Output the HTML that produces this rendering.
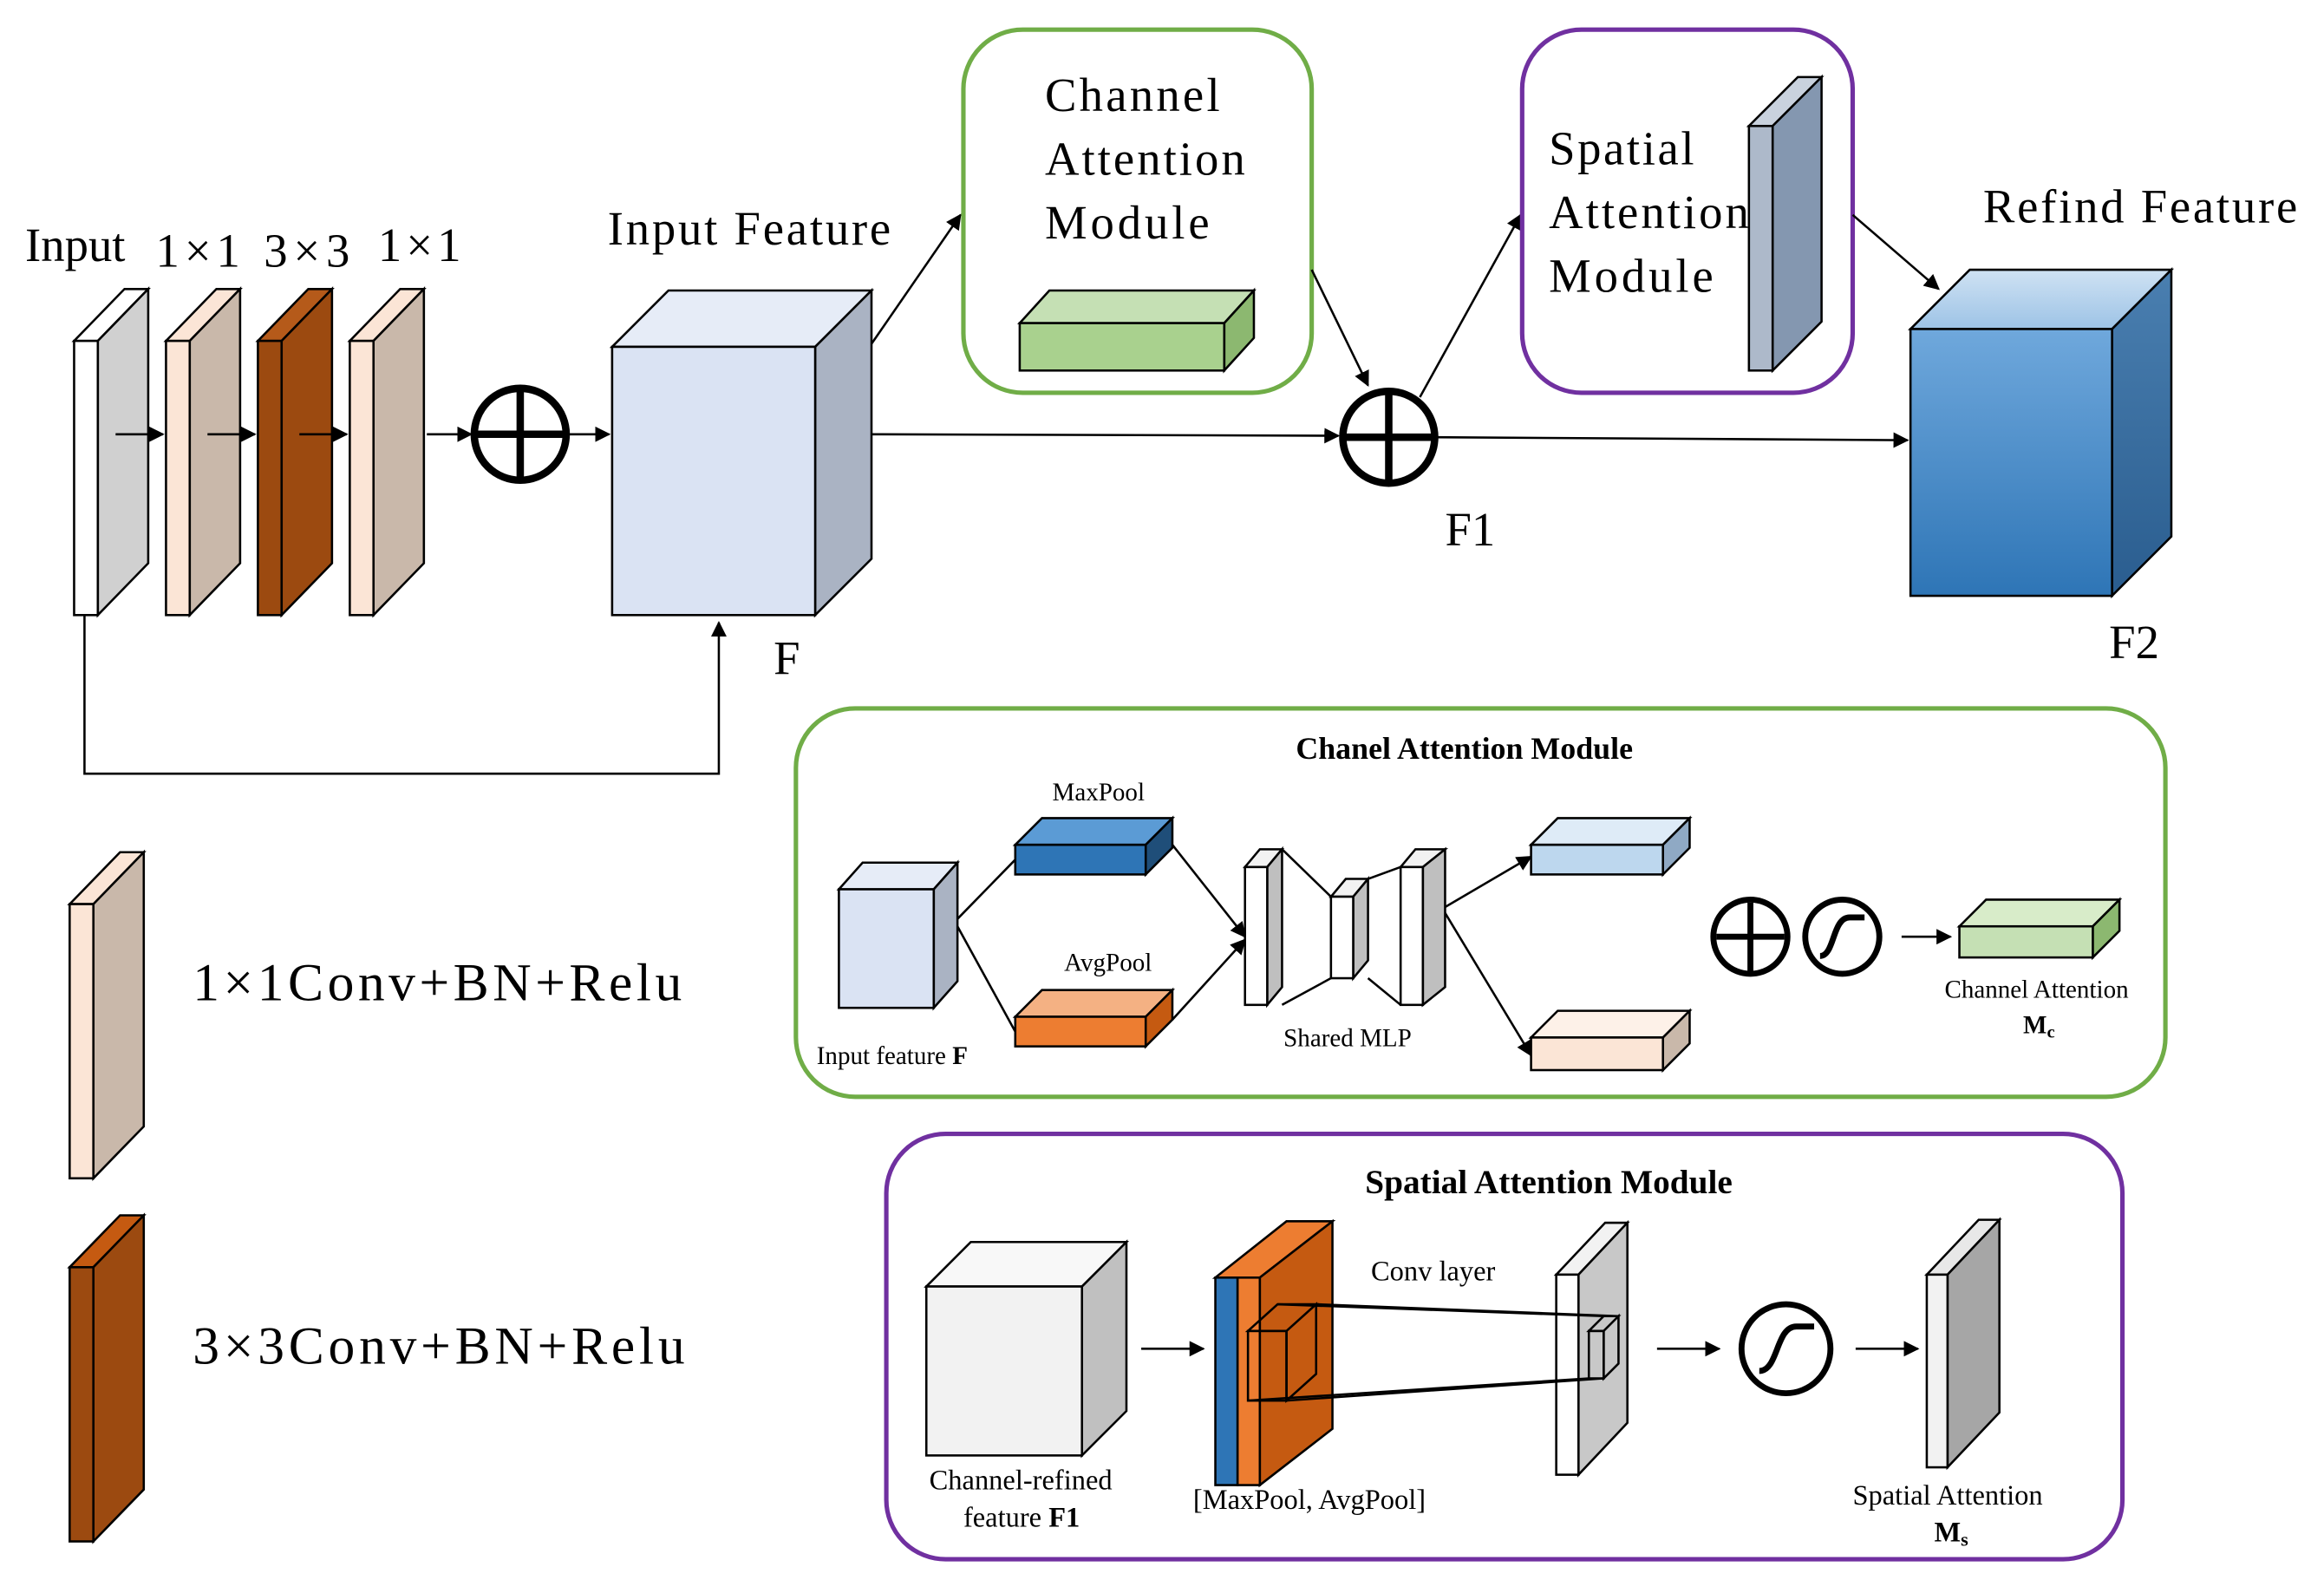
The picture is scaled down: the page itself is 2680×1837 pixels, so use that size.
<!DOCTYPE html>
<html><head><meta charset="utf-8"><style>
html,body{margin:0;padding:0;background:#fff;}
svg{display:block;}
text{font-family:"Liberation Serif",serif;fill:#000;}
</style></head><body>
<svg width="2680" height="1837" viewBox="0 0 1568 1074.8" preserveAspectRatio="none" xmlns="http://www.w3.org/2000/svg">
<defs>
<marker id="a" viewBox="0 0 10 10" refX="9" refY="5" markerWidth="7" markerHeight="7" orient="auto"><path d="M0,0L10,5L0,10z" fill="#000"/></marker>
<linearGradient id="bl" x1="0" y1="0" x2="0" y2="1"><stop offset="0" stop-color="#6fa8dc"/><stop offset="1" stop-color="#2e75b6"/></linearGradient>
<linearGradient id="bs" x1="0" y1="0" x2="0" y2="1"><stop offset="0" stop-color="#4a7fb0"/><stop offset="1" stop-color="#2a5d8f"/></linearGradient>
<linearGradient id="bt" x1="0" y1="0" x2="0" y2="1"><stop offset="0" stop-color="#cfe2f3"/><stop offset="1" stop-color="#9dc3e6"/></linearGradient>
</defs>
<g stroke="#000" stroke-width="1.5">
<g>
<path d="M50,230 L84,195 L100,195 L66,230z" fill="#fff"/><path d="M66,230 L100,195 L100,380 L66,415z" fill="#d0d0d0"/><rect x="50" y="230" width="16" height="185" fill="#fff"/>
<path d="M112,230 L146,195 L162,195 L128,230z" fill="#fbe5d6"/><path d="M128,230 L162,195 L162,380 L128,415z" fill="#c9b8aa"/><rect x="112" y="230" width="16" height="185" fill="#fbe5d6"/>
<path d="M174,230 L208,195 L224,195 L190,230z" fill="#b55a1a"/><path d="M190,230 L224,195 L224,380 L190,415z" fill="#9c4a10"/><rect x="174" y="230" width="16" height="185" fill="#9c4a10"/>
<path d="M236,230 L270,195 L286,195 L252,230z" fill="#fbe5d6"/><path d="M252,230 L286,195 L286,380 L252,415z" fill="#c9b8aa"/><rect x="236" y="230" width="16" height="185" fill="#fbe5d6"/>
</g>
<line x1="78" y1="293" x2="110" y2="293" marker-end="url(#a)"/>
<line x1="140" y1="293" x2="172" y2="293" marker-end="url(#a)"/>
<line x1="202" y1="293" x2="234" y2="293" marker-end="url(#a)"/>
<line x1="288" y1="293" x2="318" y2="293" marker-end="url(#a)"/>
<circle cx="351" cy="293" r="31" fill="#fff" stroke-width="5"/><path d="M322,293H380M351,264V322" stroke-width="5"/>
<line x1="384" y1="293" x2="411" y2="293" marker-end="url(#a)"/>
<path d="M413,234 L451,196 L588,196 L550,234z" fill="#e6ecf7"/><path d="M550,234 L588,196 L588,377 L550,415z" fill="#aab3c3"/><rect x="413" y="234" width="137" height="181" fill="#dae3f3"/>
<polyline points="57,415 57,522 485,522 485,420" fill="none" marker-end="url(#a)"/>
<line x1="588" y1="232" x2="648" y2="145" marker-end="url(#a)"/>
<rect x="650" y="20" width="235" height="245" rx="40" fill="none" stroke="#70ad47" stroke-width="3"/>
<path d="M688,218 L708,196 L846,196 L826,218z" fill="#c5e0b4"/><path d="M826,218 L846,196 L846,228 L826,250z" fill="#8cb870"/><rect x="688" y="218" width="138" height="32" fill="#a9d18e"/>
<line x1="885" y1="182" x2="923" y2="260" marker-end="url(#a)"/>
<line x1="588" y1="293" x2="903" y2="294" marker-end="url(#a)"/>
<circle cx="937" cy="295" r="31" fill="#fff" stroke-width="5"/><path d="M908,295H966M937,266V324" stroke-width="5"/>
<line x1="958" y1="268" x2="1026" y2="145" marker-end="url(#a)"/>
<rect x="1027" y="20" width="223" height="245" rx="40" fill="none" stroke="#7030a0" stroke-width="3"/>
<path d="M1180,85 L1213,52 L1229,52 L1196,85z" fill="#c9d2de"/><path d="M1196,85 L1229,52 L1229,217 L1196,250z" fill="#8497b0"/><rect x="1180" y="85" width="16" height="165" fill="#adb9ca"/>
<line x1="1250" y1="145" x2="1308" y2="195" marker-end="url(#a)"/>
<line x1="968" y1="295" x2="1287" y2="297" marker-end="url(#a)"/>
<path d="M1289,222 L1329,182 L1465,182 L1425,222z" fill="url(#bt)"/><path d="M1425,222 L1465,182 L1465,362 L1425,402z" fill="url(#bs)"/><rect x="1289" y="222" width="136" height="180" fill="url(#bl)"/>
<path d="M47,610 L81,575 L97,575 L63,610z" fill="#fbe5d6"/><path d="M63,610 L97,575 L97,760 L63,795z" fill="#c9b8aa"/><rect x="47" y="610" width="16" height="185" fill="#fbe5d6"/>
<path d="M47,855 L81,820 L97,820 L63,855z" fill="#c55a11"/><path d="M63,855 L97,820 L97,1005 L63,1040z" fill="#9c4a10"/><rect x="47" y="855" width="16" height="185" fill="#9c4a10"/>
<rect x="537" y="478" width="924" height="262" rx="40" fill="none" stroke="#70ad47" stroke-width="3"/>
<path d="M566,600 L582,582 L646,582 L630,600z" fill="#e6ecf7"/><path d="M630,600 L646,582 L646,662 L630,680z" fill="#aab3c3"/><rect x="566" y="600" width="64" height="80" fill="#dae3f3"/>
<path d="M685,570 L703,552 L791,552 L773,570z" fill="#5b9bd5"/><path d="M773,570 L791,552 L791,572 L773,590z" fill="#1f4e79"/><rect x="685" y="570" width="88" height="20" fill="#2e75b6"/>
<path d="M685,686 L703,668 L791,668 L773,686z" fill="#f4b183"/><path d="M773,686 L791,668 L791,688 L773,706z" fill="#c55a11"/><rect x="685" y="686" width="88" height="20" fill="#ed7d31"/>
<line x1="646" y1="620" x2="685" y2="580"/><line x1="646" y1="625" x2="685" y2="696"/>
<line x1="791" y1="570" x2="840" y2="632" marker-end="url(#a)"/><line x1="791" y1="688" x2="840" y2="634" marker-end="url(#a)"/>
<path d="M840,585 L850,573 L865,573 L855,585z" fill="#f2f2f2"/><path d="M855,585 L865,573 L865,666 L855,678z" fill="#bfbfbf"/><rect x="840" y="585" width="15" height="93" fill="#fff"/>
<path d="M898,605 L908,593 L923,593 L913,605z" fill="#f2f2f2"/><path d="M913,605 L923,593 L923,648 L913,660z" fill="#bfbfbf"/><rect x="898" y="605" width="15" height="55" fill="#fff"/>
<path d="M945,585 L955,573 L975,573 L960,585z" fill="#f2f2f2"/><path d="M960,585 L975,573 L975,666 L960,678z" fill="#bfbfbf"/><rect x="945" y="585" width="15" height="93" fill="#fff"/>
<line x1="865" y1="573" x2="898" y2="605"/><line x1="865" y1="678" x2="898" y2="660"/><line x1="923" y1="593" x2="945" y2="585"/><line x1="923" y1="660" x2="945" y2="678"/>
<line x1="975" y1="612" x2="1033" y2="578" marker-end="url(#a)"/><line x1="975" y1="616" x2="1033" y2="712" marker-end="url(#a)"/>
<path d="M1033,570 L1051,552 L1140,552 L1122,570z" fill="#deebf7"/><path d="M1122,570 L1140,552 L1140,572 L1122,590z" fill="#8fa9c4"/><rect x="1033" y="570" width="89" height="20" fill="#bdd7ee"/>
<path d="M1033,700 L1051,682 L1140,682 L1122,700z" fill="#fdf1e8"/><path d="M1122,700 L1140,682 L1140,704 L1122,722z" fill="#c9b8aa"/><rect x="1033" y="700" width="89" height="22" fill="#fbe5d6"/>
<circle cx="1181" cy="632" r="25" fill="#fff" stroke-width="4"/><path d="M1158,632H1204M1181,609V655" stroke-width="4"/>
<circle cx="1243" cy="632" r="25" fill="#fff" stroke-width="4"/><path d="M1228,645 C1238,645 1236,619 1248,619 C1256,619 1256,619 1258,619" fill="none" stroke-width="4"/>
<line x1="1283" y1="632" x2="1316" y2="632" marker-end="url(#a)"/>
<path d="M1322,625 L1340,607 L1430,607 L1412,625z" fill="#d8ecc9"/><path d="M1412,625 L1430,607 L1430,628 L1412,646z" fill="#8cb870"/><rect x="1322" y="625" width="90" height="21" fill="#c5e0b4"/>
<rect x="598" y="765" width="834" height="287" rx="40" fill="none" stroke="#7030a0" stroke-width="3"/>
<path d="M625,868 L655,838 L760,838 L730,868z" fill="#f8f8f8"/><path d="M730,868 L760,838 L760,952 L730,982z" fill="#c0c0c0"/><rect x="625" y="868" width="105" height="114" fill="#f2f2f2"/>
<line x1="770" y1="910" x2="812" y2="910" marker-end="url(#a)"/>
<path d="M820,862 L868,824 L899,824 L850,862z" fill="#ed7d31"/><path d="M850,862 L899,824 L899,964 L850,1002z" fill="#c55a11"/>
<rect x="820" y="862" width="15" height="140" fill="#2e75b6"/><rect x="835" y="862" width="15" height="140" fill="#ed7d31"/>
<path d="M842,898 L862,880 L888,880 L868,898z M868,898 L888,880 L888,927 L868,945z" fill="none"/><rect x="842" y="898" width="26" height="47" fill="none"/>
<path d="M1050,860 L1083,825 L1098,825 L1065,860z" fill="#f2f2f2"/><path d="M1065,860 L1098,825 L1098,960 L1065,995z" fill="#c8c8c8"/><rect x="1050" y="860" width="15" height="135" fill="#fff"/>
<path d="M1072,898 L1082,888 L1092,888 L1082,898z M1082,898 L1092,888 L1092,920 L1082,930z" fill="none"/><rect x="1072" y="898" width="10" height="32" fill="none"/>
<line x1="862" y1="880" x2="1082" y2="888"/><line x1="888" y1="880" x2="1092" y2="888"/><line x1="842" y1="945" x2="1072" y2="930"/><line x1="868" y1="945" x2="1082" y2="930"/>
<line x1="1118" y1="910" x2="1160" y2="910" marker-end="url(#a)"/>
<circle cx="1205" cy="910" r="30" fill="#fff" stroke-width="4"/><path d="M1187,925 C1200,925 1198,895 1212,895 C1220,895 1222,895 1224,895" fill="none" stroke-width="4"/>
<line x1="1252" y1="910" x2="1294" y2="910" marker-end="url(#a)"/>
<path d="M1300,860 L1335,823 L1349,823 L1314,860z" fill="#e8e8e8"/><path d="M1314,860 L1349,823 L1349,953 L1314,990z" fill="#a6a6a6"/><rect x="1300" y="860" width="14" height="130" fill="#f2f2f2"/>
</g>
<g font-size="32">
<text x="17" y="176">Input</text><text x="105" y="180" textLength="57">1×1</text><text x="178" y="180" textLength="58">3×3</text><text x="255" y="176" textLength="56">1×1</text>
<text x="410" y="165" textLength="191">Input Feature</text><text x="522" y="455">F</text>
<text x="705" y="75" textLength="118">Channel</text><text x="705" y="118" textLength="135">Attention</text><text x="705" y="161" textLength="111">Module</text>
<text x="1045" y="111" textLength="98">Spatial</text><text x="1045" y="154" textLength="135">Attention</text><text x="1045" y="197" textLength="111">Module</text>
<text x="975" y="368">F1</text><text x="1338" y="150" textLength="212">Refind Feature</text><text x="1423" y="444">F2</text>
</g>
<text x="130" y="675" font-size="36" textLength="330">1×1Conv+BN+Relu</text>
<text x="130" y="920" font-size="36" textLength="332">3×3Conv+BN+Relu</text>
<text x="988" y="512" font-size="21" font-weight="bold" text-anchor="middle">Chanel Attention Module</text>
<g font-size="17">
<text x="710" y="540">MaxPool</text><text x="718" y="655">AvgPool</text>
<text x="551" y="718">Input feature <tspan font-weight="bold">F</tspan></text>
<text x="866" y="706">Shared MLP</text>
<text x="1312" y="673">Channel Attention</text>
<text x="1365" y="697" font-weight="bold">M<tspan font-size="12" dy="3">c</tspan></text>
</g>
<text x="1045" y="805" font-size="23" font-weight="bold" text-anchor="middle">Spatial Attention Module</text>
<g font-size="19">
<text x="925" y="864">Conv layer</text>
<text x="627" y="1005">Channel-refined</text><text x="650" y="1030">feature  <tspan font-weight="bold">F1</tspan></text>
<text x="805" y="1018">[MaxPool, AvgPool]</text>
<text x="1250" y="1015">Spatial Attention</text>
<text x="1305" y="1040" font-weight="bold">M<tspan font-size="13" dy="3">s</tspan></text>
</g>
</svg>
</body></html>
